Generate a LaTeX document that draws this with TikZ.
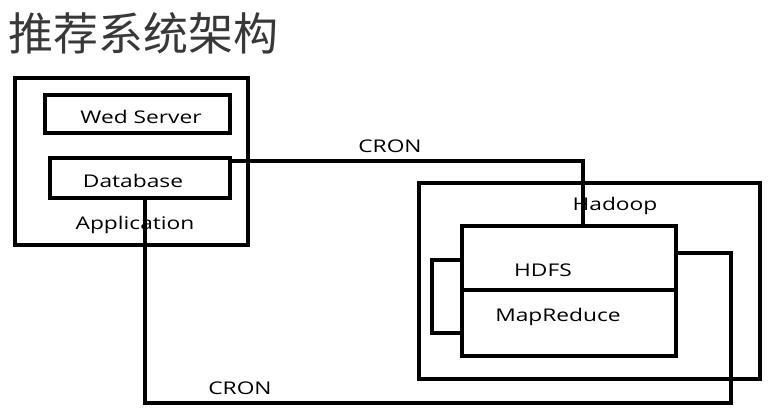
\documentclass[tikz,border=0pt]{standalone}
\usepackage{fontspec}
\setmainfont{Open Sans}[FakeStretch=1.3]
\newfontfamily\cjk{Noto Sans CJK SC}
\usetikzlibrary{positioning, calc}
\definecolor{titlegrey}{HTML}{383838}

\tikzset{
    box/.style={draw, line width=4pt, minimum width=#1, inner sep=0pt},
    lbl/.style={font=\fontsize{17.5}{20}\selectfont, inner sep=0pt},
    link/.style={line width=3.4pt}
}

\begin{document}
\begin{tikzpicture}[x=1pt, y=-1pt]
    \useasboundingbox (0,0) rectangle (774,413);

    \node[anchor=west, inner sep=0pt, text=titlegrey, font=\cjk\fontsize{45}{48}\selectfont] (title) at (8,33) {推荐系统架构};

    % application side
    \node[box=233pt, minimum height=167pt] (app) at (131.5,161.5) {};
    \node[box=185pt, minimum height=38pt] (web) at (137.5,114) {};
    \node[box=180pt, minimum height=40pt] (db) at (140,178) {};
    \node[lbl] (weblbl) at (141,117) {Wed Server};
    \node[lbl] (dblbl) at (133,181) {Database};
    \node[lbl] (applbl) at (135,225) {Application};

    % hadoop side
    \node[box=341pt, minimum height=196pt] (hadoop) at (589.5,281) {};
    \node[box=214pt, minimum height=64pt] (hdfs) at (569,258) {};
    \node[box=214pt, minimum height=66pt] (mr) at (569,323) {};
    \node[lbl] (hadooplbl) at (615,206) {Hadoop};
    \node[lbl] (hdfslbl) at (543,270) {HDFS};
    \node[lbl] (mrlbl) at (558,317) {MapReduce};

    \node[lbl] (cron1) at (390,146) {CRON};
    \node[lbl] (cron2) at (240,388) {CRON};

    \coordinate (top) at (583,161);
    \coordinate (low) at (145,403);
    \coordinate (rgt) at (731,253);
    \coordinate (b1) at (432,260);
    \coordinate (b2) at (432,333);

    \draw[link] (db.east |- top) -- (top) -- (top |- hdfs.north);
    \draw[link] (low |- db.south) -- (low) -| (rgt) -- (rgt -| hdfs.east);
    \draw[link] (hdfs.west |- b1) -- (b1) -- (b2) -- (mr.west |- b2);

\end{tikzpicture}
\end{document}
